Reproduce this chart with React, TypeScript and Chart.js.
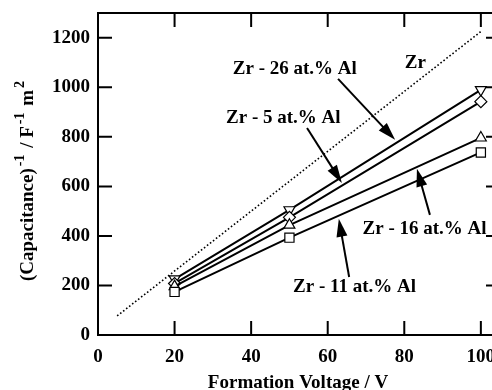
import React, { useEffect, useRef } from "react";
import { Chart, registerables } from "chart.js";

Chart.register(...registerables);

// ---- data ----
const voltages = [20, 50, 100];
const al26 = [226, 505, 990];
const al5 = [208, 475, 942];
const al16 = [196, 444, 796];
const al11 = [174, 393, 737];
const zrVoltages = [5, 100];
const zrValues = [77, 1225];
const xTickValues = [0, 20, 40, 60, 80, 100];
const yTickValues = [0, 200, 400, 600, 800, 1000, 1200];

const labelTexts = ["Zr - 26 at.% Al", "Zr - 5 at.% Al", "Zr", "Zr - 16 at.% Al", "Zr - 11 at.% Al"];
const labelX = [51.4, 48.4, 82.9, 85.3, 67.0];
const labelY = [1079, 881, 1103, 432, 198];

const arrowFromX = [62.7, 54.6, 86.7, 65.6];
const arrowFromY = [1034, 836, 485, 234];
const arrowToX = [77.6, 63.7, 83.3, 62.9];
const arrowToY = [788, 614, 671, 469];

const FONT = '"Liberation Serif", "Times New Roman", serif';

const framePlugin = {
  id: "frame",
  beforeDatasetsDraw(chart: any) {
    const { ctx, chartArea, scales } = chart;
    const { left, right, top, bottom } = chartArea;
    ctx.save();
    ctx.strokeStyle = "#000";
    ctx.lineWidth = 2;
    ctx.strokeRect(left, top, right - left, bottom - top);
    const tl = 14;
    ctx.beginPath();
    for (const v of xTickValues) {
      const px = scales.x.getPixelForValue(v);
      ctx.moveTo(px, bottom);
      ctx.lineTo(px, bottom - tl);
      ctx.moveTo(px, top);
      ctx.lineTo(px, top + tl);
    }
    for (const v of yTickValues) {
      const py = scales.y.getPixelForValue(v);
      ctx.moveTo(left, py);
      ctx.lineTo(left + tl, py);
      ctx.moveTo(right, py);
      ctx.lineTo(right - tl, py);
    }
    ctx.stroke();
    ctx.restore();
  },
};

const annotationPlugin = {
  id: "annot",
  afterDatasetsDraw(chart: any) {
    const { ctx, scales, chartArea } = chart;
    ctx.save();
    ctx.fillStyle = "#000";
    ctx.strokeStyle = "#000";
    ctx.font = `bold 19px ${FONT}`;
    ctx.textAlign = "center";
    ctx.textBaseline = "alphabetic";
    labelTexts.forEach((t, i) => {
      const px = scales.x.getPixelForValue(labelX[i]);
      const py = scales.y.getPixelForValue(labelY[i]);
      ctx.fillText(t, px, py + 6.5);
    });
    // arrows
    const headLen = 18;
    const headHalf = 5.5;
    ctx.lineWidth = 2;
    for (let i = 0; i < arrowFromX.length; i++) {
      const x1 = scales.x.getPixelForValue(arrowFromX[i]);
      const y1 = scales.y.getPixelForValue(arrowFromY[i]);
      const x2 = scales.x.getPixelForValue(arrowToX[i]);
      const y2 = scales.y.getPixelForValue(arrowToY[i]);
      const dx = x2 - x1;
      const dy = y2 - y1;
      const len = Math.hypot(dx, dy);
      const ux = dx / len;
      const uy = dy / len;
      const bx = x2 - ux * headLen;
      const by = y2 - uy * headLen;
      ctx.beginPath();
      ctx.moveTo(x1, y1);
      ctx.lineTo(bx + ux * 2, by + uy * 2);
      ctx.stroke();
      ctx.beginPath();
      ctx.moveTo(x2, y2);
      ctx.lineTo(bx - uy * headHalf, by + ux * headHalf);
      ctx.lineTo(bx + uy * headHalf, by - ux * headHalf);
      ctx.closePath();
      ctx.fill();
    }
    // x title
    ctx.font = `bold 19px ${FONT}`;
    ctx.textAlign = "center";
    ctx.fillText("Formation Voltage / V", (chartArea.left + chartArea.right) / 2 - 1, 388);
    // y title with superscripts
    ctx.translate(27, 180);
    ctx.rotate(-Math.PI / 2);
    ctx.textAlign = "left";
    const parts: [string, boolean][] = [
      ["(Capacitance)", false],
      ["-1", true],
      [" / F", false],
      ["-1", true],
      [" m", false],
      ["2", true],
    ];
    const mainFont = `bold 19px ${FONT}`;
    const supFont = `bold 14px ${FONT}`;
    let total = 0;
    const widths: number[] = [];
    parts.forEach(([t, sup]) => {
      ctx.font = sup ? supFont : mainFont;
      const w = ctx.measureText(t).width + (sup ? 4 : 0);
      widths.push(w);
      total += w;
    });
    let cx = -total / 2;
    parts.forEach(([t, sup], i) => {
      ctx.font = sup ? supFont : mainFont;
      ctx.fillText(t, cx + (sup ? 2 : 0), sup ? -3 : 6);
      cx += widths[i];
    });
    ctx.restore();
  },
};

export default function App() {
  const ref = useRef<HTMLCanvasElement | null>(null);

  useEffect(() => {
    if (!ref.current) return;
    const mk = (data: number[]) => data.map((v, i) => ({ x: voltages[i], y: v }));
    const seriesStyle = (style: string, radius: number, rotation = 0) => ({
      borderColor: "#000",
      borderWidth: 2,
      pointStyle: style,
      pointRadius: radius,
      pointRotation: rotation,
      pointBackgroundColor: "#fff",
      pointBorderColor: "#000",
      pointBorderWidth: 1.2,
      fill: false,
      tension: 0,
    });
    const chart = new Chart(ref.current, {
      type: "line",
      data: {
        datasets: [
          {
            label: "Zr",
            data: zrVoltages.map((v, i) => ({ x: v, y: zrValues[i] })),
            borderColor: "#000",
            borderWidth: 1.6,
            borderDash: [1.6, 2.2],
            pointRadius: 0,
            fill: false,
          },
          { label: "Zr - 11 at.% Al", data: mk(al11), ...seriesStyle("rect", 6.5) },
          { label: "Zr - 16 at.% Al", data: mk(al16), ...seriesStyle("triangle", 6.3) },
          { label: "Zr - 5 at.% Al", data: mk(al5), ...seriesStyle("rectRot", 6) },
          { label: "Zr - 26 at.% Al", data: mk(al26), ...seriesStyle("triangle", 6.3, 180) },
        ] as any,
      },
      options: {
        responsive: false,
        animation: false,
        layout: { padding: { top: 13, right: 10, left: 0, bottom: 0 } },
        plugins: { legend: { display: false }, tooltip: { enabled: false } },
        scales: {
          x: {
            type: "linear",
            min: 0,
            max: 105,
            grid: { display: false, drawTicks: false },
            border: { display: false },
            ticks: {
              color: "#000",
              font: { family: FONT, size: 19, weight: "bold" },
              padding: 11,
              maxRotation: 0,
              autoSkip: false,
              callback: (v: any) => String(v),
            },
            afterBuildTicks: (s: any) => {
              s.ticks = xTickValues.map((v) => ({ value: v }));
            },
            afterFit: (s: any) => {
              s.height = 55;
              s.paddingLeft = 0;
              s.paddingRight = 0;
            },
          },
          y: {
            type: "linear",
            min: 0,
            max: 1300,
            grid: { display: false, drawTicks: false },
            border: { display: false },
            ticks: {
              color: "#000",
              font: { family: FONT, size: 19, weight: "bold" },
              padding: 8,
              autoSkip: false,
              callback: (v: any) => String(v),
            },
            afterBuildTicks: (s: any) => {
              s.ticks = yTickValues.map((v) => ({ value: v }));
            },
            afterFit: (s: any) => {
              s.width = 98;
              s.paddingTop = 0;
              s.paddingBottom = 0;
            },
          },
        },
      } as any,
      plugins: [framePlugin, annotationPlugin],
    });
    return () => chart.destroy();
  }, []);

  return (
    <div style={{ position: "absolute", left: 0, top: 0, width: 492, height: 390, overflow: "hidden", background: "#fff" }}>
      <canvas ref={ref} width={510} height={390} style={{ display: "block" }} />
    </div>
  );
}
